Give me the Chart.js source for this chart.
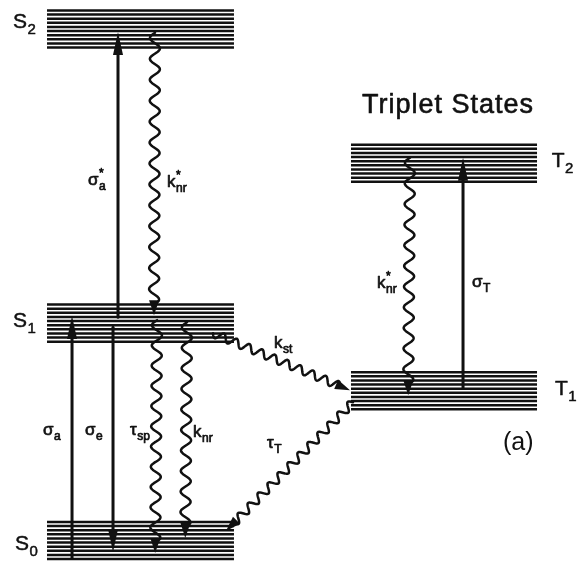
<!DOCTYPE html>
<html>
<head>
<meta charset="utf-8">
<script src="https://cdn.jsdelivr.net/npm/chart.js@4.4.1/dist/chart.umd.min.js"></script>
<style>
  html, body { margin: 0; padding: 0; background: #fff; }
  #wrap { width: 579px; height: 563px; }
</style>
</head>
<body>
<div id="wrap"><canvas id="jablonski"></canvas></div>
<script>
// energy levels (arbitrary energy units, 0..100)
const levelNames = ['S0', 'S1', 'S2', 'T1', 'T2'];
const levelEnergy = [4.0, 42.6, 94.85, 30.6, 71.0];
const levelSpin = ['singlet', 'singlet', 'singlet', 'triplet', 'triplet'];
const subLevelCount = 10;

// transitions between levels
const transFrom = ['S0', 'S1', 'S1', 'S2', 'S1', 'S1', 'S1', 'T1', 'T2', 'T1'];
const transTo   = ['S1', 'S0', 'S2', 'S1', 'S0', 'S0', 'T1', 'S0', 'T1', 'T2'];
const transKind = ['rad', 'rad', 'rad', 'wave', 'wave', 'wave', 'wave', 'wave', 'wave', 'rad'];
const transMain = ['σ', 'σ', 'σ', 'k', 'τ', 'k', 'k', 'τ', 'k', 'σ'];
const transSub  = ['a', 'e', 'a', 'nr', 'sp', 'nr', 'st', 'T', 'nr', 'T'];
const transSup  = ['', '', '*', '*', '', '', '', '', '*', ''];

// ---- layout (where things sit on the page), kept apart from the data ----
const bandHalf = 3.3;                  // half height of a level band
const columnX = { singlet: [8.12, 40.41], triplet: [60.62, 92.75] };
// per transition: x at start, place in start band (-1..1), x at end, place in end band
const transPos = [
  [12.44, -0.9, 12.44, 0.38],
  [19.52, -0.22, 19.52, -0.62],
  [20.38, 0.32, 20.38, -0.16],
  [26.77, -0.2, 26.6, 0.43],
  [27.12, 0.16, 26.8, -0.68],
  [32.3, 0.05, 32.0, 0.14],
  [36.79, -0.54, 60.45, 0.03],
  [60.97, -0.62, 39.03, 0.51],
  [70.81, 0.3, 70.5, -0.24],
  [79.97, 0.14, 79.97, 0.3]
];
const labelPos = [
  [7.43, 22.74], [14.68, 22.74], [15.2, 67.14], [28.84, 66.79], [22.45, 22.74],
  [33.33, 22.38], [47.32, 38.19], [46.11, 20.43], [65.11, 48.85], [81.52, 49.02]
];
const levelLabelPos = [[2.6, 2.31], [2.25, 41.92], [2.25, 95.03], [95.85, 29.84], [95.3, 70.34]];

const FONT = '"Liberation Sans", Arial, Helvetica, sans-serif';
const INK = '#111';

// one line dataset per sub level
const datasets = [];
levelNames.forEach(function (name, i) {
  const xr = columnX[levelSpin[i]];
  for (let k = 0; k < subLevelCount; k++) {
    const y = levelEnergy[i] + bandHalf - k * (2 * bandHalf / (subLevelCount - 1));
    datasets.push({
      label: name + '-' + k,
      data: [{ x: xr[0], y: y }, { x: xr[1], y: y }],
      borderColor: INK,
      borderWidth: 2.5,
      pointRadius: 0,
      showLine: true,
      fill: false
    });
  }
});

function arrowHead(ctx, tx, ty, ux, uy, len, half) {
  const bx = tx - ux * len, by = ty - uy * len;
  ctx.beginPath();
  ctx.moveTo(tx, ty);
  ctx.lineTo(bx - uy * half, by + ux * half);
  ctx.lineTo(bx + uy * half, by - ux * half);
  ctx.closePath();
  ctx.fill();
}

function drawWave(ctx, ax, ay, bx, by, period, amp) {
  const dx = bx - ax, dy = by - ay;
  const L = Math.hypot(dx, dy);
  const ux = dx / L, uy = dy / L, nx = -uy, ny = ux;
  const headLen = 15;
  const end = L - headLen * 0.7;
  const n = Math.max(1, Math.round(end / period));
  const p = end / n;
  ctx.beginPath();
  for (let s = 0; s <= end; s += 0.5) {
    const off = amp * Math.sin(2 * Math.PI * s / p);
    const x = ax + ux * s + nx * off, y = ay + uy * s + ny * off;
    if (s === 0) ctx.moveTo(x, y); else ctx.lineTo(x, y);
  }
  ctx.stroke();
  arrowHead(ctx, bx, by, ux, uy, headLen, 5);
}

function drawStraight(ctx, ax, ay, bx, by) {
  const L = Math.hypot(bx - ax, by - ay);
  const ux = (bx - ax) / L, uy = (by - ay) / L;
  ctx.beginPath();
  ctx.moveTo(ax, ay);
  ctx.lineTo(bx - ux * 10, by - uy * 10);
  ctx.stroke();
  arrowHead(ctx, bx, by, ux, uy, 23, 5);
}

function symbol(ctx, x, y, main, sub, sup, size, weight) {
  ctx.lineWidth = weight;
  ctx.font = size + 'px ' + FONT;
  ctx.fillText(main, x, y);
  ctx.strokeText(main, x, y);
  const w = ctx.measureText(main).width;
  const small = Math.round(size * 0.72);
  ctx.font = small + 'px ' + FONT;
  if (sub) { ctx.fillText(sub, x + w + 0.5, y + size * 0.3); ctx.strokeText(sub, x + w + 0.5, y + size * 0.3); }
  if (sup) { ctx.fillText(sup, x + w + 0.5, y - size * 0.45); ctx.strokeText(sup, x + w + 0.5, y - size * 0.45); }
}

const diagramPlugin = {
  id: 'jablonskiDiagram',
  afterDatasetsDraw: function (chart) {
    const ctx = chart.ctx;
    const xs = chart.scales.x, ys = chart.scales.y;
    const px = function (v) { return xs.getPixelForValue(v); };
    const py = function (v) { return ys.getPixelForValue(v); };
    const energyOf = function (name) { return levelEnergy[levelNames.indexOf(name)]; };

    ctx.save();
    ctx.strokeStyle = INK;
    ctx.fillStyle = INK;
    ctx.lineCap = 'round';
    ctx.lineJoin = 'round';

    transFrom.forEach(function (from, i) {
      const pos = transPos[i];
      const ax = px(pos[0]), ay = py(energyOf(from) + pos[1] * bandHalf);
      const bx = px(pos[2]), by = py(energyOf(transTo[i]) + pos[3] * bandHalf);
      if (transKind[i] === 'rad') {
        ctx.lineWidth = 3;
        drawStraight(ctx, ax, ay, bx, by);
      } else {
        const diagonal = Math.abs(ax - bx) > 40;
        ctx.lineWidth = 2.5;
        drawWave(ctx, ax, ay, bx, by, diagonal ? 14 : 21, diagonal ? 4 : 5);
      }
      ctx.textAlign = 'left';
      ctx.textBaseline = 'alphabetic';
      symbol(ctx, px(labelPos[i][0]), py(labelPos[i][1]), transMain[i], transSub[i], transSup[i], 17, 0.7);
    });

    // level names
    levelNames.forEach(function (name, i) {
      symbol(ctx, px(levelLabelPos[i][0]), py(levelLabelPos[i][1]), name[0], name.slice(1), '', 21, 0.5);
    });

    ctx.lineWidth = 0.6;
    ctx.font = '27px ' + FONT;
    if ('letterSpacing' in ctx) ctx.letterSpacing = '1px';
    ctx.fillText('Triplet States', px(62.52), py(79.93));
    ctx.strokeText('Triplet States', px(62.52), py(79.93));
    if ('letterSpacing' in ctx) ctx.letterSpacing = '0px';
    ctx.font = '25px ' + FONT;
    ctx.fillText('(a)', px(86.87), py(20.07));
    ctx.restore();
  }
};

new Chart(document.getElementById('jablonski').getContext('2d'), {
  type: 'scatter',
  data: { datasets: datasets },
  options: {
    responsive: true,
    maintainAspectRatio: false,
    animation: false,
    layout: { padding: 0 },
    scales: {
      x: { type: 'linear', min: 0, max: 100, display: false },
      y: { type: 'linear', min: 0, max: 100, display: false }
    },
    plugins: {
      legend: { display: false },
      tooltip: { enabled: false }
    }
  },
  plugins: [diagramPlugin]
});
</script>
</body>
</html>
